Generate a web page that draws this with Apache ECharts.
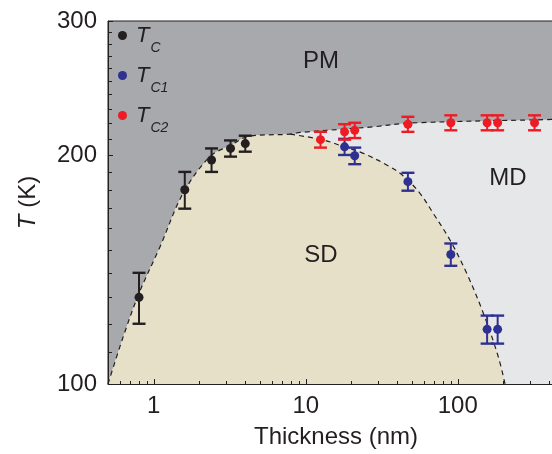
<!DOCTYPE html>
<html>
<head>
<meta charset="utf-8">
<script src="https://cdn.jsdelivr.net/npm/echarts@6/dist/echarts.min.js"></script>
<style>
  html, body { margin: 0; padding: 0; background: #fff; }
  #chart { width: 552px; height: 454px; }
</style>
</head>
<body>
<div id="chart"></div>
<script>
// Transition temperatures vs film thickness (nm, K), with error half-widths
const tcThickness = [0.8, 1.6, 2.4, 3.2, 4.0];
const tcTemp = [130, 180, 197, 204, 207];
const tcErr = [10, 10, 7, 5, 5];

const tc1Thickness = [18, 21, 47, 90, 156, 183];
const tc1Temp = [205, 199.5, 184.5, 148, 118, 118];
const tc1Err = [5, 5, 5, 5, 5, 5];

const tc2Thickness = [12.5, 18, 21, 47, 90, 156, 183, 320];
const tc2Temp = [209.5, 214.5, 215.5, 219.5, 220.5, 220.5, 220.5, 220.5];
const tc2Err = [5, 5, 5, 5, 5, 5, 5, 5];

// Upper phase boundary (PM below / above), running the full thickness range
const pmBoundaryX = [0.5, 0.63, 0.80, 1.10, 1.56, 2.34, 3.17, 4.3, 7.9, 9.2, 27.8, 48.5, 417, 500];
const pmBoundaryT = [100, 115.4, 131.6, 151.5, 178.1, 199, 205.7, 211.8, 213, 214.1, 217.8, 220.3, 222.7, 222.9];
const domePeakIndex = 8; // where the SD dome splits off the upper boundary

// Falling side of the SD dome, starting at the split point
const sdDomeX = [7.9, 13.05, 17.7, 23.9, 35.8, 43.8, 56.4, 69, 88.9, 114.5, 147.3, 184.8, 204.6];
const sdDomeT = [213, 209.3, 205.1, 201, 193, 187.7, 178.1, 167.6, 154.6, 139.8, 123.9, 108.6, 100];

// Axis ticks and labels
const xLabelValues = [1, 10, 100];
const xMinorTicks = [0.6, 0.7, 0.8, 0.9, 2, 3, 4, 5, 6, 7, 8, 9, 20, 30, 40, 50, 60, 70, 80, 90, 200, 300, 400, 500];
const yLabelValues = [100, 200, 300];
const yMinorTicks = [110, 120, 130, 140, 150, 160, 170, 180, 190, 210, 220, 230, 240, 250, 260, 270, 280, 290];

const ink = '#231f20';
const blue = '#2e3192';
const red = '#ed1c24';
const pmColor = '#a7a9ac';
const mdColor = '#e6e7e8';
const sdColor = '#e6e0c8';
const font = '"Liberation Sans", Arial, sans-serif';

const toPairs = (xs, ys) => xs.map((x, i) => [x, ys[i]]);
const withErr = (xs, ys, es) => xs.map((x, i) => [x, ys[i], es[i]]);

const pmBoundary = toPairs(pmBoundaryX, pmBoundaryT);
const sdDome = toPairs(sdDomeX, sdDomeT);
const sdOutline = pmBoundary.slice(0, domePeakIndex + 1).concat(sdDome.slice(1));

function errorBars(color) {
  return function (params, api) {
    const x = api.value(0), y = api.value(1), e = api.value(2);
    const top = api.coord([x, y + e]);
    const bot = api.coord([x, y - e]);
    const hw = 6.5;
    return {
      type: 'group',
      children: [
        { type: 'line', shape: { x1: top[0], y1: top[1], x2: bot[0], y2: bot[1] }, style: { stroke: color, lineWidth: 2 } },
        { type: 'line', shape: { x1: top[0] - hw, y1: top[1], x2: top[0] + hw, y2: top[1] }, style: { stroke: color, lineWidth: 2.4 } },
        { type: 'line', shape: { x1: bot[0] - hw, y1: bot[1], x2: bot[0] + hw, y2: bot[1] }, style: { stroke: color, lineWidth: 2.4 } }
      ]
    };
  };
}

// plot box runs past the right edge of the page, so the frame is open on that side
const gridBox = { left: 108, top: 21, bottom: 70, width: 456, outerBoundsMode: 'none', containLabel: false };

const chart = echarts.init(document.getElementById('chart'), null, { renderer: 'canvas' });

chart.setOption({
  animation: false,
  backgroundColor: '#ffffff',
  textStyle: { fontFamily: font },
  grid: [
    Object.assign({ show: true, backgroundColor: pmColor, borderColor: ink, borderWidth: 1 }, gridBox),
    Object.assign({ show: false }, gridBox)
  ],
  xAxis: [
    {
      type: 'log', logBase: 10, gridIndex: 0, min: 0.5, max: 500, z: 10,
      name: 'Thickness (nm)', nameLocation: 'middle', nameGap: 41,
      nameTextStyle: { fontSize: 24, color: ink, fontFamily: font },
      axisLine: { lineStyle: { color: ink, width: 1 } },
      axisTick: { inside: true, length: 5, customValues: xLabelValues, lineStyle: { color: ink, width: 1 } },
      axisLabel: { customValues: xLabelValues, fontSize: 24, color: ink, margin: 10, fontFamily: font },
      splitLine: { show: false }
    },
    {
      type: 'log', logBase: 10, gridIndex: 1, min: 0.5, max: 500, z: 10,
      axisLine: { show: false },
      axisTick: { inside: true, length: 3, customValues: xMinorTicks, lineStyle: { color: ink, width: 1 } },
      axisLabel: { show: false },
      splitLine: { show: false }
    }
  ],
  yAxis: [
    {
      type: 'log', logBase: 10, gridIndex: 0, min: 100, max: 300, z: 10,
      name: '{i|T} (K)', nameLocation: 'middle', nameGap: 68, nameRotate: 90,
      nameTextStyle: {
        fontSize: 24, color: ink, fontFamily: font, lineHeight: 24,
        rich: { i: { fontStyle: 'italic', fontSize: 24, color: ink, fontFamily: font, lineHeight: 24 } }
      },
      axisLine: { lineStyle: { color: ink, width: 1 } },
      axisTick: { inside: true, length: 5, customValues: yLabelValues, lineStyle: { color: ink, width: 1 } },
      axisLabel: { customValues: yLabelValues, fontSize: 24, color: ink, margin: 11, fontFamily: font },
      splitLine: { show: false }
    },
    {
      type: 'log', logBase: 10, gridIndex: 1, min: 100, max: 300, z: 10,
      axisLine: { show: false },
      axisTick: { inside: true, length: 4, customValues: yMinorTicks, lineStyle: { color: ink, width: 1 } },
      axisLabel: { show: false },
      splitLine: { show: false }
    }
  ],
  legend: {
    orient: 'vertical', left: 118, top: 24.5, padding: 0,
    itemWidth: 9, itemHeight: 9, itemGap: 9.5, icon: 'circle',
    data: ['T_C', 'T_C1', 'T_C2'],
    formatter: function (name) {
      const parts = name.split('_');
      return '{t|' + parts[0] + '}{s|' + parts[1] + '}{p|\u200b}';
    },
    textStyle: {
      fontFamily: font,
      rich: {
        t: { fontSize: 22, fontStyle: 'italic', color: ink, fontFamily: font, verticalAlign: 'middle', padding: [0, 0, 0, 4] },
        s: { fontSize: 14, fontStyle: 'italic', color: ink, fontFamily: font, lineHeight: 14, verticalAlign: 'bottom', padding: [0, 0, 0, 1] },
        p: { fontSize: 1, lineHeight: 39 }
      }
    }
  },
  graphic: [
    { type: 'text', x: 321, y: 61, z: 20, style: { text: 'PM', font: '24px ' + font, fill: ink, textAlign: 'center', textVerticalAlign: 'middle' } },
    { type: 'text', x: 321, y: 255, z: 20, style: { text: 'SD', font: '24px ' + font, fill: ink, textAlign: 'center', textVerticalAlign: 'middle' } },
    { type: 'text', x: 508, y: 178, z: 20, style: { text: 'MD', font: '24px ' + font, fill: ink, textAlign: 'center', textVerticalAlign: 'middle' } }
  ],
  series: [
    {
      type: 'line', name: 'md-fill', xAxisIndex: 0, yAxisIndex: 0, z: 2,
      data: pmBoundary, smooth: 0.35, symbol: 'none', silent: true,
      lineStyle: { width: 0, opacity: 0 },
      areaStyle: { color: mdColor, opacity: 1, origin: 'start' }
    },
    {
      type: 'line', name: 'sd-fill', xAxisIndex: 0, yAxisIndex: 0, z: 3,
      data: sdOutline, smooth: 0.35, symbol: 'none', silent: true,
      lineStyle: { width: 0, opacity: 0 },
      areaStyle: { color: sdColor, opacity: 1, origin: 'start' }
    },
    {
      type: 'line', name: 'pm-line', xAxisIndex: 0, yAxisIndex: 0, z: 4,
      data: pmBoundary, smooth: 0.35, symbol: 'none', silent: true,
      lineStyle: { color: ink, width: 1.2, type: [5, 4] }
    },
    {
      type: 'line', name: 'sd-line', xAxisIndex: 0, yAxisIndex: 0, z: 4,
      data: sdDome, smooth: 0.35, symbol: 'none', silent: true,
      lineStyle: { color: ink, width: 1.2, type: [5, 4] }
    },
    { type: 'custom', name: 'err-c', xAxisIndex: 0, yAxisIndex: 0, z: 5, silent: true, encode: { x: 0, y: 1 }, data: withErr(tcThickness, tcTemp, tcErr), renderItem: errorBars(ink) },
    { type: 'custom', name: 'err-c1', xAxisIndex: 0, yAxisIndex: 0, z: 5, silent: true, encode: { x: 0, y: 1 }, data: withErr(tc1Thickness, tc1Temp, tc1Err), renderItem: errorBars(blue) },
    { type: 'custom', name: 'err-c2', xAxisIndex: 0, yAxisIndex: 0, z: 5, silent: true, encode: { x: 0, y: 1 }, data: withErr(tc2Thickness, tc2Temp, tc2Err), renderItem: errorBars(red) },
    { type: 'scatter', name: 'T_C', xAxisIndex: 0, yAxisIndex: 0, z: 6, symbolSize: 9, itemStyle: { color: ink, opacity: 1 }, data: toPairs(tcThickness, tcTemp) },
    { type: 'scatter', name: 'T_C1', xAxisIndex: 0, yAxisIndex: 0, z: 6, symbolSize: 9, itemStyle: { color: blue, opacity: 1 }, data: toPairs(tc1Thickness, tc1Temp) },
    { type: 'scatter', name: 'T_C2', xAxisIndex: 0, yAxisIndex: 0, z: 6, symbolSize: 9, itemStyle: { color: red, opacity: 1 }, data: toPairs(tc2Thickness, tc2Temp) }
  ]
});
</script>
</body>
</html>
